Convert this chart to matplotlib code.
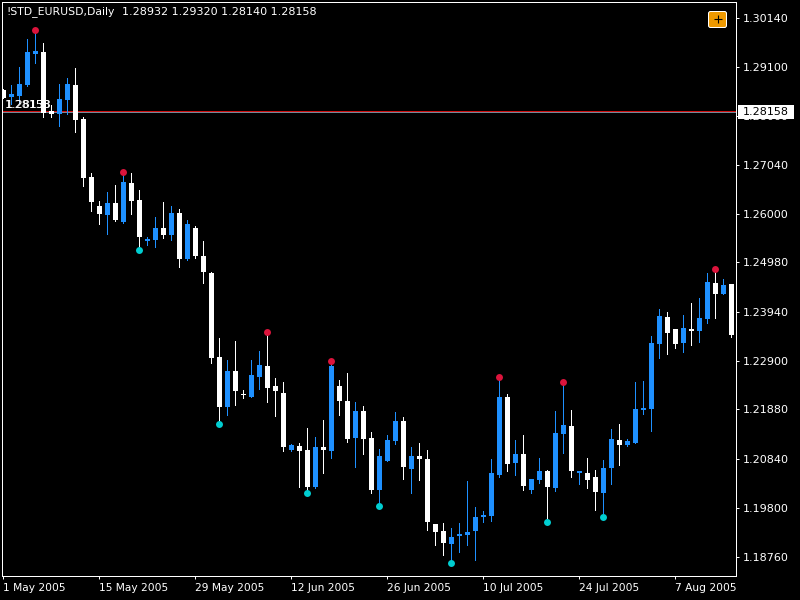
#!/usr/bin/env python3
# -*- coding: utf-8 -*-
"""
Daily EURUSD candles, May to Aug 2005, drawn like a trading terminal window
"""

# import modules
import numpy as np
import matplotlib
matplotlib.use('Agg')
import matplotlib.pyplot as plt
from matplotlib.patches import FancyBboxPatch, Rectangle

# daily prices, one value per candle
opens = [1.28621, 1.28473, 1.28494, 1.28727, 1.29381, 1.29423, 1.28178, 1.28115,
         1.28410, 1.28727, 1.28009, 1.26785, 1.26173, 1.25984, 1.26237, 1.25836,
         1.26659, 1.26300, 1.25435, 1.25456, 1.25709, 1.25562, 1.26026, 1.25055,
         1.25709, 1.25118, 1.24760, 1.22987, 1.21932, 1.22692, 1.22207, 1.22143,
         1.22565, 1.22797, 1.22375, 1.22228, 1.21025, 1.21109, 1.21025, 1.20244,
         1.21088, 1.21004, 1.22375, 1.22059, 1.21278, 1.21848, 1.21278, 1.20181,
         1.20793, 1.21215, 1.21637, 1.20624, 1.20898, 1.20835, 1.19464, 1.19316,
         1.19042, 1.19210, 1.19232, 1.19316, 1.19611, 1.19632, 1.20498, 1.22143,
         1.20751, 1.20941, 1.20181, 1.20392, 1.20582, 1.20223, 1.21363, 1.21531,
         1.20540, 1.20540, 1.20455, 1.20118, 1.20645, 1.21236, 1.21131, 1.21173,
         1.21869, 1.21890, 1.23262, 1.23831, 1.23578, 1.23283, 1.23578, 1.23536,
         1.23789, 1.24549, 1.24317, 1.24528]
highs = [1.28642, 1.28727, 1.29106, 1.29697, 1.29845, 1.29613, 1.28305, 1.28748,
         1.28874, 1.29085, 1.28051, 1.26870, 1.26279, 1.26469, 1.26617, 1.26828,
         1.26870, 1.26511, 1.25519, 1.25941, 1.26258, 1.26173, 1.26110, 1.25878,
         1.25751, 1.25435, 1.24781, 1.23388, 1.22924, 1.23325, 1.22291, 1.22924,
         1.23114, 1.23452, 1.22544, 1.22460, 1.21152, 1.21173, 1.21489, 1.21299,
         1.21658, 1.22840, 1.22502, 1.22650, 1.22038, 1.21953, 1.21405, 1.21046,
         1.21342, 1.21827, 1.21721, 1.21088, 1.21173, 1.21025, 1.19464, 1.19485,
         1.19379, 1.19485, 1.20371, 1.19822, 1.19738, 1.20835, 1.22502, 1.22207,
         1.21236, 1.21342, 1.20413, 1.20856, 1.20603, 1.21848, 1.22397, 1.21869,
         1.20582, 1.20856, 1.20603, 1.20814, 1.21468, 1.21574, 1.21257, 1.22460,
         1.22481, 1.23430, 1.24000, 1.23937, 1.23578, 1.23874, 1.24127, 1.24232,
         1.24760, 1.24781, 1.24633, 1.24528]
lows = [1.28452, 1.28326, 1.28347, 1.28705, 1.29191, 1.28051, 1.28051, 1.27861,
        1.28115, 1.27735, 1.26595, 1.26068, 1.25794, 1.25583, 1.25857, 1.25815,
        1.26005, 1.25308, 1.25351, 1.25308, 1.25498, 1.25456, 1.24886, 1.25034,
        1.25076, 1.24549, 1.22861, 1.21637, 1.21764, 1.21975, 1.22122, 1.22143,
        1.22312, 1.22038, 1.21742, 1.21004, 1.21004, 1.20244, 1.20181, 1.20223,
        1.20540, 1.20856, 1.21764, 1.21194, 1.20666, 1.20941, 1.20118, 1.19865,
        1.20793, 1.21152, 1.20413, 1.20118, 1.20392, 1.19337, 1.19021, 1.18810,
        1.18704, 1.18873, 1.19021, 1.18704, 1.19506, 1.19527, 1.20455, 1.20582,
        1.20498, 1.20181, 1.20118, 1.20329, 1.19590, 1.20160, 1.20962, 1.20455,
        1.20308, 1.20223, 1.19759, 1.19696, 1.20308, 1.20709, 1.21109, 1.21173,
        1.21785, 1.21426, 1.22966, 1.23051, 1.23177, 1.23093, 1.23241, 1.23304,
        1.23705, 1.23810, 1.24317, 1.23409]
closes = [1.28452, 1.28537, 1.28748, 1.29423, 1.29444, 1.28136, 1.28115, 1.28431,
          1.28748, 1.27988, 1.26764, 1.26258, 1.26005, 1.26237, 1.25878, 1.26680,
          1.26279, 1.25519, 1.25477, 1.25709, 1.25562, 1.26026, 1.25055, 1.25794,
          1.25118, 1.24781, 1.22966, 1.21932, 1.22692, 1.22270, 1.22186, 1.22608,
          1.22819, 1.22333, 1.22270, 1.21088, 1.21131, 1.21004, 1.20244, 1.21088,
          1.21025, 1.22797, 1.22059, 1.21257, 1.21848, 1.21257, 1.20181, 1.20898,
          1.21236, 1.21637, 1.20666, 1.20898, 1.20835, 1.19506, 1.19295, 1.19063,
          1.19189, 1.19253, 1.19295, 1.19611, 1.19654, 1.20540, 1.22143, 1.20730,
          1.20941, 1.20265, 1.20413, 1.20582, 1.20244, 1.21384, 1.21553, 1.20582,
          1.20582, 1.20392, 1.20139, 1.20645, 1.21257, 1.21131, 1.21215, 1.21890,
          1.21911, 1.23283, 1.23852, 1.23494, 1.23262, 1.23599, 1.23536, 1.23810,
          1.24570, 1.24317, 1.24507, 1.23452]

# indicator dots above and below the swing candles
peak_days = [4, 15, 33, 41, 62, 70, 89]
peak_prices = [1.29887, 1.26891, 1.23515, 1.22903, 1.22565, 1.22460, 1.24844]
trough_days = [17, 27, 38, 47, 56, 68, 75]
trough_prices = [1.25245, 1.21574, 1.20118, 1.19843, 1.18641, 1.19506, 1.19611]

# axis labels
price_ticks = [1.30140, 1.29100, 1.28060, 1.27040, 1.26000, 1.24980,
               1.23940, 1.22900, 1.21880, 1.20840, 1.19800, 1.18760]
date_days = [0, 12, 24, 36, 48, 60, 72, 84]
date_labels = ['1 May 2005', '15 May 2005', '29 May 2005', '12 Jun 2005',
               '26 Jun 2005', '10 Jul 2005', '24 Jul 2005', '7 Aug 2005']
last_price = 1.28158
ask_price = 1.28179

UP = '#1E90FF'
DOWN = 'white'

plt.rcParams['font.family'] = 'DejaVu Sans'
plt.rcParams['font.size'] = 8

fig = plt.figure(figsize=(8, 6), dpi=100, facecolor='black')
ax = fig.add_axes([2.3 / 800, 23.7 / 600, 734 / 800, 574 / 600],
                  facecolor='black')
ax.set_xlim(-0.125, 91.625)
ax.set_ylim(1.183559, 1.304673)

# price lines sit behind the candles
ax.axhline(ask_price, color='#D01010', lw=0.72, zorder=1)
ax.axhline(last_price, color='#778899', lw=0.72, zorder=1)

# wicks then bodies
days = np.arange(len(opens))
o = np.array(opens)
c = np.array(closes)
colours = np.where(c > o, UP, DOWN).tolist()
ax.vlines(days, lows, highs, colors=colours, lw=0.72, antialiased=False, zorder=2)
ax.bar(days, np.abs(c - o), bottom=np.minimum(o, c), width=5 / 8, color=colours,
       linewidth=0, antialiased=False, zorder=3)

# dots
ax.plot(peak_days, peak_prices, 'o', color='#DC143C', ms=5.0, mew=0, zorder=4)
ax.plot(trough_days, trough_prices, 'o', color='#00CED1', ms=5.0, mew=0, zorder=4)

# axes in terminal style
for side in ax.spines:
    ax.spines[side].set_color('white')
    ax.spines[side].set_linewidth(0.72)
ax.yaxis.tick_right()
ax.set_yticks(price_ticks)
ax.set_yticklabels(['%.5f' % p for p in price_ticks])
ax.set_xticks(date_days)
ax.set_xticklabels(date_labels, ha='left', fontsize=7.7)
ax.tick_params(axis='both', colors='white', length=2.5, width=0.72, pad=2.5)

# overlay in window pixels for the text and widgets on top of the chart
top = fig.add_axes([0, 0, 1, 1])
top.set_xlim(0, 800)
top.set_ylim(600, 0)
top.set_axis_off()

top.text(6.5, 12, '!STD_EURUSD,Daily', color='white', fontsize=7.8, va='center')
top.text(122, 12, '1.28932 1.29320 1.28140 1.28158', color='white', fontsize=8,
         va='center')

# stale price labels printed over each other
top.text(5, 105, '%.5f' % last_price, color='white', fontsize=8, va='center')
top.text(5.5, 105, '1.28133', color='white', fontsize=8, va='center')

# current price flag on the price scale
top.add_patch(Rectangle((738, 105), 56, 14, fc='white', ec='none'))
top.text(743, 112, '%.5f' % last_price, color='black', fontsize=8, va='center')

# one click trading button
top.add_patch(FancyBboxPatch((708.5, 11.5), 18, 16,
                             boxstyle='round,pad=0,rounding_size=2',
                             fc='#EE9900', ec='white', lw=0.72))
top.plot([717.5], [18.5], '+', color='black', ms=6, mew=0.8)

plt.savefig('out.png', facecolor='black')
